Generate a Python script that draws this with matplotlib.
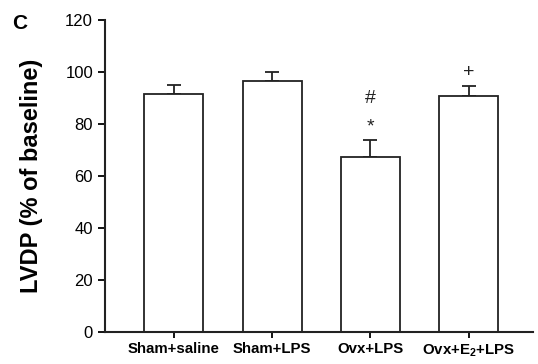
import matplotlib.pyplot as plt
import numpy as np

plt.rcParams['font.family'] = ['Liberation Sans', 'DejaVu Sans']
plt.rcParams['mathtext.fontset'] = 'custom'
plt.rcParams['mathtext.bf'] = 'Liberation Sans:bold'
plt.rcParams['mathtext.rm'] = 'Liberation Sans'
plt.rcParams['mathtext.default'] = 'bf'

groups = ['Sham+saline', 'Sham+LPS', 'Ovx+LPS', 'Ovx+E$_2$+LPS']
lvdp = [91.4, 96.7, 67.4, 90.6]
sem = [3.6, 3.4, 6.4, 4.0]
marks = [[], [], [('*', 79), ('#', 90)], [('+', 100)]]

fig = plt.figure(figsize=(5.38, 3.64), dpi=100)
ax = fig.add_axes([0.195, 0.088, 0.795, 0.857])

x = np.arange(len(groups))
ax.bar(x, lvdp, width=0.6, color='white', edgecolor='#222222', linewidth=1.3, zorder=2)
ax.errorbar(x, lvdp, yerr=[np.zeros(len(sem)), sem], fmt='none', ecolor='#222222',
            elinewidth=1.3, capsize=5, capthick=1.3, zorder=1)

for xi, mk in zip(x, marks):
    for sym, yv in mk:
        ax.text(xi, yv, sym, ha='center', va='center', fontsize=14, color='#222222')

ax.set_xlim(-0.7, 3.65)
ax.set_ylim(0, 120)
ax.set_yticks(range(0, 121, 20))
ax.set_xticks(x)
ax.set_xticklabels(groups, fontweight='bold', fontsize=10.8)
ax.tick_params(axis='y', labelsize=12, width=1.3, length=5, direction='out')
ax.tick_params(axis='x', width=1.3, length=4, direction='out')
for s in ['top', 'right']:
    ax.spines[s].set_visible(False)
for s in ['left', 'bottom']:
    ax.spines[s].set_linewidth(1.5)
    ax.spines[s].set_color('#222222')

ax.set_ylabel('LVDP (% of baseline)', fontsize=17, fontweight='bold', labelpad=16)
fig.text(0.022, 0.935, 'C', fontsize=15, fontweight='bold', va='center')

fig.savefig('out.png', dpi=100)
